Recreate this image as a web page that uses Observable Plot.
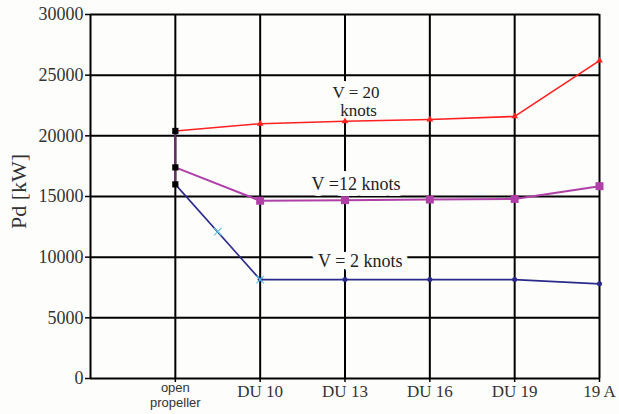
<!DOCTYPE html>
<html>
<head>
<meta charset="utf-8">
<script src="https://cdn.jsdelivr.net/npm/d3@7"></script>
<script src="https://cdn.jsdelivr.net/npm/@observablehq/plot@0.6"></script>
<style>
  html, body { margin: 0; padding: 0; background: #fdfdfc; }
  #chart svg { display: block; background: #fdfdfc; }
</style>
</head>
<body>
<div id="chart"></div>
<script>
// ---- data ----
const categories = ["open propeller", "DU 10", "DU 13", "DU 16", "DU 19", "19 A"];
const v20 = [20400, 21000, 21200, 21350, 21600, 26200];
const v12 = [17400, 14650, 14700, 14750, 14800, 15850];
const v2  = [16000, 8150, 8150, 8150, 8150, 7800];
const yTicks = [0, 5000, 10000, 15000, 20000, 25000, 30000];
const crossX = [0.5, 1];
const crossY = [12100, 8150];
const labelText = ["V = 20", "knots", "V =12 knots", "V = 2 knots"];
const labelX = [2.13, 2.16, 2.13, 2.18];
const labelY = [23550, 22100, 16050, 9700];

const idx = categories.map((_, i) => i);
const mk = arr => arr.map((v, i) => ({x: i, y: v}));
const s20 = mk(v20), s12 = mk(v12), s2 = mk(v2);
const firsts = [v20[0], v12[0], v2[0]];
const labels = labelText.map((t, i) => ({t, x: labelX[i], y: labelY[i]}));
const crosses = crossX.map((x, i) => ({x, y: crossY[i]}));

const serif = "'Liberation Serif', 'DejaVu Serif', serif";
const sans = "'Liberation Sans', 'DejaVu Sans', sans-serif";

const chart = Plot.plot({
  width: 619,
  height: 414,
  marginLeft: 90,
  marginRight: 20,
  marginTop: 14,
  marginBottom: 36,
  style: {background: "#fdfdfc", color: "#222"},
  x: {type: "linear", domain: [-1, 5]},
  y: {domain: [0, 30000]},
  marks: [
    Plot.gridX(idx, {stroke: "#000", strokeOpacity: 1, strokeWidth: 2}),
    Plot.gridY(yTicks.slice(1), {stroke: "#000", strokeOpacity: 1, strokeWidth: 2}),
    Plot.ruleX([-1], {stroke: "#000", strokeWidth: 2}),
    Plot.ruleY([0], {stroke: "#000", strokeWidth: 2}),
    Plot.text(labels.slice(0, 2), {x: "x", y: "y", text: "t", fontFamily: serif, fontSize: 17, fill: "#222",
      stroke: "#fdfdfc", strokeWidth: 12}),
    Plot.text(labels.slice(2), {x: "x", y: "y", text: "t", fontFamily: serif, fontSize: 18, fill: "#222",
      stroke: "#fdfdfc", strokeWidth: 12}),
    Plot.ruleX([0], {y1: Math.min(...firsts), y2: Math.max(...firsts), stroke: "#6a2a6a", strokeWidth: 2}),
    Plot.line(s20, {x: "x", y: "y", stroke: "#ff2020", strokeWidth: 1.6}),
    Plot.line(s12, {x: "x", y: "y", stroke: "#b040a8", strokeWidth: 2}),
    Plot.line(s2, {x: "x", y: "y", stroke: "#2a2a8c", strokeWidth: 1.6}),
    Plot.dot(s20.slice(1), {x: "x", y: "y", symbol: "triangle", r: 2.5, fill: "#ff2020"}),
    Plot.dot(s12.slice(1), {x: "x", y: "y", symbol: "square", r: 4.5, fill: "#b040a8"}),
    Plot.dot(s2.slice(1), {x: "x", y: "y", r: 2.5, fill: "#2a2a8c"}),
    Plot.dot(crosses, {x: "x", y: "y", symbol: "times", r: 3.5, stroke: "#60c8e0", strokeWidth: 1.2}),
    Plot.dot(firsts, {x: () => 0, y: d => d, symbol: "square", r: 3.5, fill: "#000"}),
    Plot.axisY(yTicks, {tickSize: 5, tickPadding: 2, fontSize: 18, fontFamily: serif, tickFormat: d => String(d),
      stroke: "#000", strokeWidth: 1.5, fill: "#333", label: null}),
    Plot.axisX([0], {tickSize: 4, tickPadding: 0, fontSize: 13, fontFamily: sans,
      tickFormat: i => categories[i].split(" ")[0], stroke: "#000", strokeWidth: 1.5, fill: "#333", label: null}),
    Plot.axisX([0], {tickSize: 0, tickPadding: 19, fontSize: 13, fontFamily: sans,
      tickFormat: i => categories[i].split(" ")[1], fill: "#333", label: null}),
    Plot.axisX(idx.slice(1), {tickSize: 4, tickPadding: 2, fontSize: 17, fontFamily: serif, tickFormat: i => categories[i],
      stroke: "#000", strokeWidth: 1.5, fill: "#333", label: null}),
    Plot.text(["Pd [kW]"], {frameAnchor: "left", textAnchor: "middle", dx: -72, dy: -5, rotate: -90,
      fontFamily: serif, fontSize: 22, fill: "#333"})
  ]
});
document.getElementById("chart").appendChild(chart);
</script>
</body>
</html>
